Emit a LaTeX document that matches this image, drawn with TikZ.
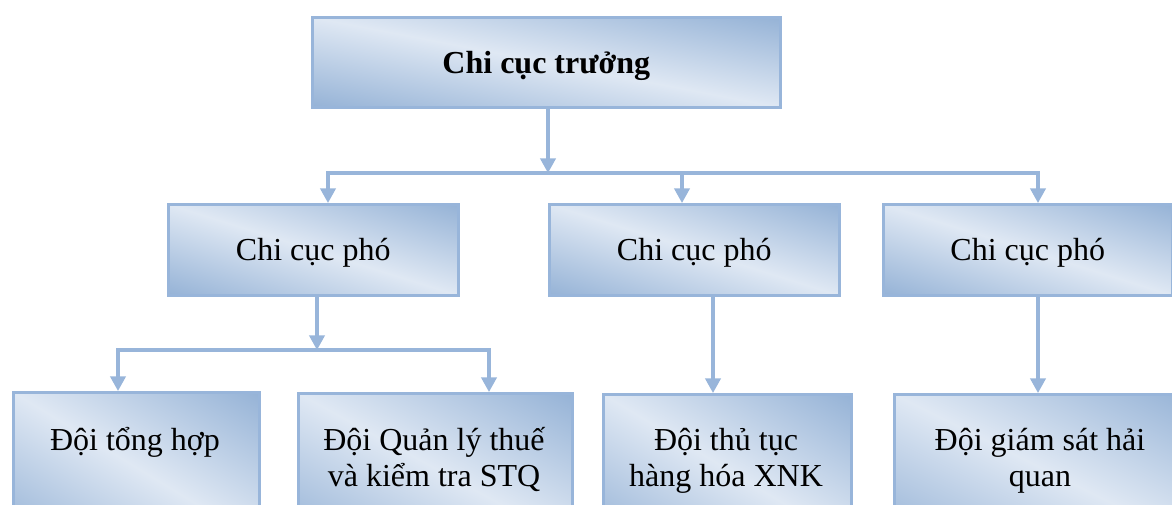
\documentclass[tikz,border=0pt]{standalone}
\usepackage{fontspec}
\setmainfont{Liberation Serif}
\usetikzlibrary{arrows.meta,calc}
\definecolor{ln}{RGB}{152,181,218}
% diagonal shading: dark at top-right and bottom-left, light along the other diagonal
\pgfdeclarefunctionalshading{boxshade}{\pgfpoint{-50bp}{-50bp}}{\pgfpoint{50bp}{50bp}}{}{
  add 50 div abs dup 1 gt {pop 1} if
  dup -0.29 mul 0.875 add
  exch dup -0.21 mul 0.910 add
  exch -0.115 mul 0.955 add
}
\begin{document}
\begin{tikzpicture}[x=0.75pt,y=-0.75pt,
  box/.style 2 args={draw=ln, line width=1.9pt, shade, shading=boxshade,
    anchor=north west, inner sep=0pt, text depth=0pt,
    minimum width=#1*0.75pt, minimum height=#2*0.75pt,
    font=\fontsize{24}{26.5}\selectfont},
  txt/.style={font=\fontsize{24}{27}\selectfont, align=center, inner sep=0pt, anchor=north},
  conn/.style={draw=ln, line width=2.3pt},
  arr/.style={conn, -{Triangle[width=11.5pt,length=11pt]}},
]
\useasboundingbox (0,0) rectangle (1172,504);
\clip (0,0) rectangle (1172,504);

% boxes
\node[box={468}{90}] (top) at (311,16) {\bfseries Chi cục trưởng};
\node[box={290}{91}] (a) at (167,203) {Chi cục phó};
\node[box={290}{91}] (b) at (548,203) {Chi cục phó};
\node[box={289}{91}] (c) at (882,203) {Chi cục phó};
\node[box={246}{150}] (d) at (12,391) {};
\node[box={274}{150}] (e) at (297,392) {};
\node[box={248}{150}] (f) at (602,393) {};
\node[box={300}{150}] (g) at (893,393) {};

% texts of the bottom boxes (top-aligned)
\node[txt] (dt) at (135,421) {\rule{0pt}{22pt}Đội tổng hợp};
\node[txt] (et) at (434,421) {\rule{0pt}{22pt}Đội Quản lý thuế\\và kiểm tra STQ};
\node[txt] (ft) at (726,421) {\rule{0pt}{22pt}Đội thủ tục\\hàng hóa XNK};
\node[txt] (gt) at (1040,421) {\rule{0pt}{22pt}Đội giám sát hải\\quan};

% junction coordinates
\coordinate (j0) at (548,173);
\coordinate (jl) at (328,173);
\coordinate (jm) at (682,173);
\coordinate (jr) at (1038,173);
\coordinate (k0) at (317,350);
\coordinate (kl) at (118,350);
\coordinate (kr) at (489,350);
\coordinate (fx) at (713,300);

% connectors
\draw[arr] (top.south -| j0) -- (j0);
\draw[arr] (j0) -| (jl |- a.north);
\draw[arr] (j0) -| (jr |- c.north);
\draw[arr] (jm) -- (jm |- b.north);

\draw[arr] (a.south -| k0) -- (k0);
\draw[arr] (k0) -| (kl |- d.north);
\draw[arr] (k0) -| (kr |- e.north);

\draw[arr] (b.south -| fx) -- (fx |- f.north);
\draw[arr] (c.south -| jr) -- (jr |- g.north);
\end{tikzpicture}
\end{document}
